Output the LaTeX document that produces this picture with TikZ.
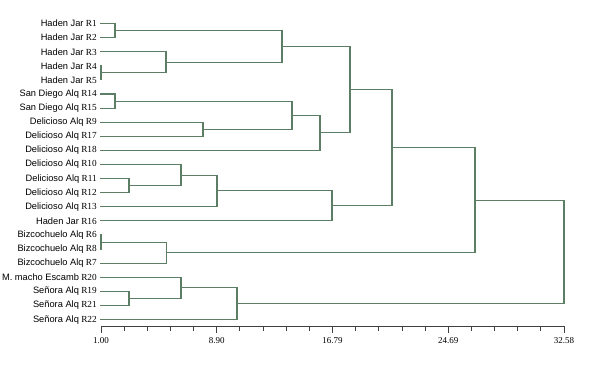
\documentclass[tikz,border=0pt]{standalone}
\usepackage{fontspec}
\setmainfont{Liberation Serif}
\setsansfont{Liberation Sans}
\usepackage{tikz}
\usetikzlibrary{calc}

\definecolor{treegreen}{RGB}{92,126,100}

\begin{document}
\begin{tikzpicture}[
  x=0.25mm, y=-0.25mm,
  link/.style ={draw=treegreen, line width=0.75pt},
  leaf/.style ={anchor=east, inner sep=0pt, font=\fontsize{6.6}{8}\selectfont},
  axlbl/.style={anchor=north, inner sep=0pt, font=\fontsize{6.4}{7}\selectfont},
  tick/.style ={draw=black!75, line width=0.6pt},
]
\useasboundingbox (0,0) rectangle (589,372);

% --- leaves: label + start of branch ---
\foreach \nm/\rr [count=\i] in {
  Haden Jar/R1, Haden Jar/R2, Haden Jar/R3, Haden Jar/R4, Haden Jar/R5,
  San Diego Alq/R14, San Diego Alq/R15,
  Delicioso Alq/R9, Delicioso Alq/R17, Delicioso Alq/R18,
  Delicioso Alq/R10, Delicioso Alq/R11, Delicioso Alq/R12, Delicioso Alq/R13,
  Haden Jar/R16,
  Bizcochuelo Alq/R6, Bizcochuelo Alq/R8, Bizcochuelo Alq/R7,
  M. macho Escamb/R20, Señora Alq/R19, Señora Alq/R21, Señora Alq/R22} {
  \pgfmathsetmacro\yy{23.5+(\i-1)*14.1}
  \node[leaf] (lab\i) at (97,\yy) {{\sffamily\nm} \rr};
  \coordinate (l\i) at (100,\yy);
}

% --- merges: name / distance (px) / first child / second child ---
\foreach \nm/\xx/\ca/\cb in {
  ma/115/l1/l2, mb/101/l4/l5, mc/166/l3/mb, md/282/ma/mc,
  me/115/l6/l7, mf/203/l8/l9, mg/292/me/mf, mh/320/mg/l10,
  mi/350/md/mh,
  mj/129/l12/l13, mk/181/l11/mj, ml/217/mk/l14, mm/332/ml/l15,
  mn/392/mi/mm,
  mo/101/l16/l17, mp/166.7/mo/l18, mq/475/mn/mp,
  mr/129/l20/l21, ms/181/l19/mr, mt/237/ms/l22,
  mu/564/mq/mt} {
  \path let \p1=(\ca), \p2=(\cb) in
    coordinate (\nm) at (\xx*0.25mm, {0.5*(\y1+\y2)});
  \draw[link] (\ca) -| (\nm);
  \draw[link] (\cb) -| (\nm);
}

% --- distance axis ---
\coordinate (ax0) at (101,326);
\coordinate (ax1) at (564,326);
\draw[tick] (ax0) -- (ax1);
\foreach \k in {0,...,20} {
  \coordinate (tk\k) at ($(ax0)!\k/20!(ax1)$);
  \draw[tick] (tk\k) -- ++(0,4.5);
}
\foreach \k/\val in {0/1.00, 5/8.90, 10/16.79, 15/24.69, 20/32.58} {
  \draw[tick] (tk\k) -- ++(0,7);
  \node[axlbl] (val\k) at ($(tk\k)+(0,11)$) {\val};
}

\end{tikzpicture}
\end{document}
